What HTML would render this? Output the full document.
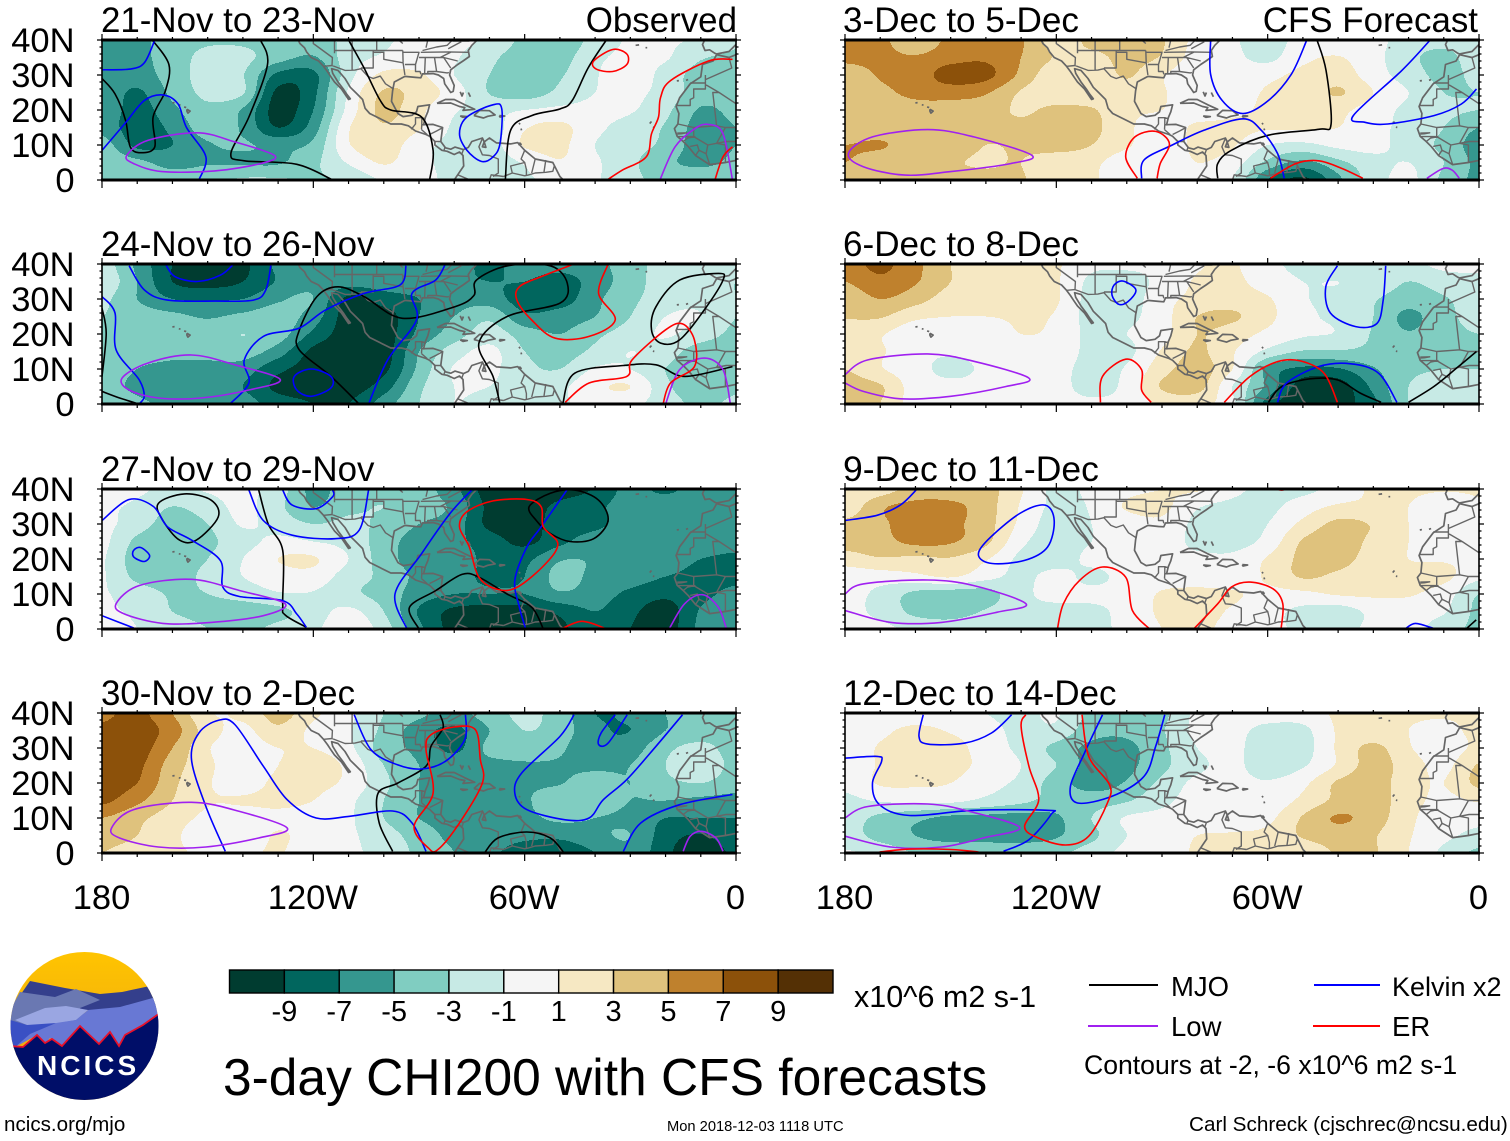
<!DOCTYPE html>
<html lang="en">
<head>
<meta charset="utf-8">
<title>3-day CHI200 with CFS forecasts</title>
<style>
html,body{margin:0;padding:0;background:#fff}
svg{display:block}
text{font-family:"Liberation Sans",sans-serif;fill:#000}
</style>
</head>
<body>
<svg xmlns="http://www.w3.org/2000/svg" width="1510" height="1141" viewBox="0 0 1510 1141">
<rect x="0" y="0" width="1510" height="1141" fill="#fff"/>
<defs>
<clipPath id="logo-clip"><circle cx="84.5" cy="1026" r="74"/></clipPath>
<linearGradient id="sky" x1="0" y1="0" x2="0" y2="1"><stop offset="0" stop-color="#ffc400"/><stop offset="1" stop-color="#e8a018"/></linearGradient>
</defs>
<g id="panels"></g>

<g>
<text x="101" y="32" font-size="34.9">21-Nov to 23-Nov</text>
<text x="737" y="32" font-size="34.9" text-anchor="end">Observed</text>
<text x="101" y="256" font-size="34.9">24-Nov to 26-Nov</text>
<text x="101" y="481" font-size="34.9">27-Nov to 29-Nov</text>
<text x="101" y="705" font-size="34.9">30-Nov to 2-Dec</text>
<text x="843" y="32" font-size="35.1">3-Dec to 5-Dec</text>
<text x="1478" y="32" font-size="34.9" text-anchor="end">CFS Forecast</text>
<text x="843" y="256" font-size="35.1">6-Dec to 8-Dec</text>
<text x="843" y="481" font-size="35.5">9-Dec to 11-Dec</text>
<text x="843" y="705" font-size="34.9">12-Dec to 14-Dec</text>
</g>

<g id="colorbar"></g>
<text x="854" y="1007" font-size="30.5">x10^6 m2 s-1</text>

<g>
<line x1="1089" y1="985" x2="1158" y2="985" stroke="#000" stroke-width="2"/>
<text x="1171" y="996" font-size="27.5">MJO</text>
<line x1="1314" y1="985" x2="1380" y2="985" stroke="#0000ff" stroke-width="2"/>
<text x="1392" y="996" font-size="27">Kelvin x2</text>
<line x1="1088" y1="1026" x2="1158" y2="1026" stroke="#a020f0" stroke-width="2"/>
<text x="1171" y="1036" font-size="27.5">Low</text>
<line x1="1313" y1="1026" x2="1380" y2="1026" stroke="#ff0000" stroke-width="2"/>
<text x="1392" y="1036" font-size="27.5">ER</text>
<text x="1084" y="1074" font-size="26.6">Contours at -2, -6 x10^6 m2 s-1</text>
</g>

<text x="223" y="1095" font-size="51.5">3-day CHI200 with CFS forecasts</text>
<text x="4" y="1131" font-size="20.6">ncics.org/mjo</text>
<text x="667" y="1131" font-size="14.7">Mon 2018-12-03 1118 UTC</text>
<text x="1189" y="1131" font-size="20.7">Carl Schreck (cjschrec@ncsu.edu)</text>

<g clip-path="url(#logo-clip)">
<rect x="10" y="952" width="150" height="148" fill="url(#sky)"/>
<polygon points="10,1010 30,981 65,988 100,994 122,992 150,986 160,990 160,1010" fill="#343f8c"/>
<polygon points="10,1010 20,992 55,997 76,989 100,1000 80,1008 88,1020 40,1030 10,1030" fill="#6a78b2"/>
<polygon points="15,1020 45,1008 66,1006 88,1010 76,1020 47,1025 27,1025" fill="#9aa6e2"/>
<polygon points="88,1010 120,1007 160,996 160,1075 125,1036 118,1046 110,1032 100,1044 80,1026 62,1046 50,1038 45,1044 37,1035 10,1050 14,1045 27,1034 56,1023 76,1020" fill="#6878d4"/>
<polygon points="10,1020 27,1025 56,1023 30,1034 14,1048 10,1048" fill="#3a50c4"/>
<polygon points="10,1046 23,1047 37,1035 45,1043 52,1039 62,1046 80,1026 99,1044 110,1032 119,1046 125,1035 143,1025 160,1013 160,1102 10,1102" fill="#000e68"/>
<polyline points="10,1046 23,1047 37,1035 45,1043 52,1039 62,1046 80,1026 99,1044 110,1032 119,1046 125,1035 143,1025 160,1013" fill="none" stroke="#e8102a" stroke-width="1.8"/>
</g>
<text x="37" y="1075" font-size="28" font-weight="bold" letter-spacing="3" style="fill:#fff">NCICS</text>

<script>
// ---------- grid axes ----------
const gridLons = [-180,-170,-160,-150,-140,-130,-120,-110,-100,-90,-80,-70,-60,-50,-40,-30,-20,-10,0];
const gridLats = [40,35,30,25,20,15,10,5,0];

// ---------- shading levels ----------
const bandLevels = [-9,-7,-5,-3,-1,1,3,5,7,9];
const bandColors = ['#003c30','#01665e','#35978f','#80cdc1','#c7eae5','#f5f5f5','#f6e8c3','#dfc27d','#bf812d','#8c510a','#543005'];

// ---------- tick labels ----------
const lonTickLabels = ['180','120W','60W','0'];
const lonTickValues = [-180,-120,-60,0];
const latTickLabels = ['40N','30N','20N','10N','0'];
const latTickValues = [40,30,20,10,0];
const colorbarLabels = ['-9','-7','-5','-3','-1','1','3','5','7','9'];

// ---------- CHI200 anomaly fields (rows lat 40..0, columns 180..0) ----------
const fieldNov21 = [
[-5.5,-5.5,-4,-3.3,-3.3,-3.8,-3.8,-2.5,-1.2,-0.8,-0.5,-1.5,-3.5,-4.5,-2.2,-0.8,-0.8,-1.3,-2.8],
[-5.5,-5.5,-4,-2.4,-2.5,-4.2,-5.2,-2,-0.7,-0.3,-0.8,-2.5,-4,-3.8,-1.5,-0.5,-0.8,-2.8,-3.3],
[-5.5,-6,-4,-2.3,-2.9,-7.5,-7.5,-1.8,1.5,1.3,-1,-3,-4,-3.2,-1.2,0.3,-1.8,-3.8,-4],
[-5.5,-7.3,-4.5,-2.5,-2.8,-9.5,-7.5,-0.7,3.2,2.2,0,-3.1,-4,-2.5,-1,-0.5,-1.8,-4,-4],
[-5.5,-7.8,-5.5,-3.5,-5.2,-9.8,-7,-0.3,3.5,1.5,-0.8,-1.5,-1,-0.5,-0.5,-0.8,-2.5,-5.2,-4.5],
[-5.8,-8,-6.5,-4,-5.3,-9,-6,0.8,2.8,1.2,-1.3,-2,0.8,1.5,-0.5,-1.8,-3.2,-5.8,-5],
[-4,-7.5,-7,-5.2,-4.8,-5.5,-4.5,0.8,2.2,-0.3,-1.5,-2,1.2,1.5,-1,-2.2,-3.5,-6,-5],
[-3.5,-4.5,-5.7,-5.2,-5.2,-5.2,-3.5,-0.8,1.2,-0.5,-1.5,-2,-0.8,0.8,-0.7,-2.5,-4.5,-5.5,-4.5],
[-3.5,-4,-4,-3.5,-2.8,-2.8,-3.2,-2.5,-0.8,-0.5,-1.5,-1.8,-1.2,-0.7,-0.8,-2.5,-3.5,-3.5,-3.5]
];
const fieldNov24 = [
[-2,-5.5,-9,-10,-9.5,-6.5,-5.5,-5.5,-5.5,-5.5,-6,-7.5,-6,-6,-5.5,-4,-2,-2,-2.5],
[-1.5,-5,-9,-9.8,-9,-6.8,-5.5,-6,-6,-6,-6.5,-7,-7,-8,-6,-4,-2,-2,-3],
[-2.5,-5,-7,-7.2,-7,-5.3,-5,-9.5,-8,-7,-6,-6,-8,-8,-5.5,-3.5,-2,-1.5,-3],
[-3,-4,-4.5,-5.2,-4.5,-4,-6,-10,-10,-7,-5,-3.5,-6.5,-6,-5,-3,-1,-1,-3],
[-3.5,-4,-4,-4,-3,-4,-7.5,-10,-10,-6.5,-4,-2,-4,-5,-3.5,-2,-0.8,-2,-3.5],
[-3,-4,-4.5,-4.5,-4,-6,-9.5,-10,-10,-5,-2,-0.5,-3,-4,-2.5,-1,-2,-4,-4],
[-3.5,-5,-5.5,-5.5,-6,-8.5,-9.8,-10,-9.5,-4.5,-0.8,-0.5,-2.5,-3,-0.8,-1,-3,-4.5,-4],
[-4,-5.5,-6,-6,-7,-9.5,-9.8,-10,-8,-3.5,-1,-1,-2.5,-1.5,0.5,1,-2.5,-4.5,-3.5],
[-3,-4.5,-5.5,-5,-6,-8,-9,-9,-6,-3,-1,-2,-3,-1.5,0,-0.5,-2,-3.5,-2.5]
];
const fieldNov27 = [
[1,-0.5,-1.5,-0.8,-0.5,-2,-5.5,-4,-3.5,-4,-6.5,-10,-10,-10,-8.8,-6.3,-7.5,-5.8,-5.5],
[-0.5,-1.5,-3,-2,-0.5,-2.5,-5,-3.5,-3,-4,-5.5,-9.5,-10,-8.5,-7.5,-6,-5.5,-5.5,-5.5],
[-0.5,-2,-4,-3,-0.8,-1.8,-3,-2.5,-3.5,-5,-6,-9.5,-10,-8,-7.5,-6,-5.5,-5.5,-5.5],
[-0.5,-3.5,-5,-3.5,-1.8,-0.5,-1,-1.8,-4,-6,-6.5,-8,-9.5,-7.5,-6,-5.5,-5.5,-5.5,-6],
[-0.8,-4,-4,-3,-1,1,1.2,-1,-4,-6,-6,-7.5,-7.5,-5.2,-5.2,-6,-6,-7,-7.5],
[-0.8,-3.5,-3.8,-2.5,-1,0,0.2,-2,-3.5,-5.5,-6,-7.5,-7,-4.4,-5.5,-6,-7,-7.5,-7.5],
[-0.8,-2,-3.2,-3,-2.2,-1.2,-1.2,-2.5,-3.8,-6,-7,-7,-7,-5.3,-6,-7.5,-8.5,-7.5,-6.5],
[-0.5,-1.5,-3,-3.6,-4,-3.5,-2,-0.5,-3,-7.2,-9.5,-10,-10,-8.5,-7,-8.5,-10,-6.8,-6],
[1,-1,-2,-3,-3.5,-2.5,-1.5,0.5,-2,-6.5,-9.8,-10,-10,-9.5,-7.5,-9,-10,-6.5,-5.5]
];
const fieldNov30 = [
[6.5,7.5,5,1.2,1.5,3.8,1.5,-0.5,-3,-4.5,-5.5,-4,-2.5,-4,-7,-6.5,-5,-4,-3.5],
[7.5,8,6,2,0.5,2.5,0.5,-0.8,-3.5,-6,-7.5,-5,-3,-4,-6.5,-7,-5,-4,-4],
[8,8,5,1.2,0,1,1,-0.5,-4,-5.5,-7.5,-4.5,-4,-4.7,-6.5,-6,-3.5,-2.5,-3.8],
[8,7.5,4,1.5,-0.5,1,2,0.5,-3,-5,-5.5,-5.5,-5.2,-5.2,-5.5,-5,-3,-2,-3.5],
[8,7,3.5,1.2,0,1.5,1.5,0.5,-2.5,-5,-5.5,-5.2,-5.2,-5.1,-4,-5,-3.5,-3,-4],
[7.5,5.5,3,1.2,1.2,1.5,1,-0.5,-3,-5,-5.5,-5.2,-5.2,-3.8,-3.8,-5,-5,-5.5,-5.8],
[5,3.5,2,0.5,0,0.5,0,-0.7,-3,-5,-5.5,-5.5,-5.5,-4.6,-5,-5.5,-7,-7,-7],
[3.5,3,1.5,-0.5,-0.5,1.2,0,-0.7,-2,-4,-5.5,-6,-6.5,-6.5,-5.5,-5,-8,-9.2,-7.5],
[3,2.5,1.5,0.5,0.5,1.2,-0.5,-0.8,-1.5,-3.5,-5,-6.5,-8,-8.5,-7,-5.5,-8.5,-10.5,-8.5]
];
const fieldDec3 = [
[5.5,5.5,3.5,5.5,5.5,5.2,2,3.5,3.5,3.2,0.3,-0.8,-1.6,-0.5,0,-0.3,-2,-2.5,-2],
[5.5,5.5,5.2,6.2,6.6,5,2.8,2.5,3.5,2.8,0,-0.5,-1.5,0.5,1.1,-0.3,-2.5,-3.5,-2],
[3.8,5.2,5.8,8,7.6,4.5,1.5,1.5,3.2,1.2,-0.5,0,0.5,1.5,2,0,-2,-3.5,-2.5],
[3.5,4.5,5.5,5.8,5.2,2.8,1.5,1.5,2,1.2,-0.5,0,1.2,1.5,3.2,1,-1,-3,-3],
[3.5,3.8,4.2,4.2,4,2.7,3.5,3.2,1.5,1,-0.5,0.5,1.3,1.5,1.5,0,-1.5,-2.5,-3],
[3.5,3.8,4,4,3.5,3.5,4,3.5,1.5,-0.5,1.5,1.5,1.2,1.2,1,-0.5,-1.5,-3,-5],
[5,5.2,4,4,3,3.3,4,3,1.3,-0.5,1.5,1.2,-1,-1.5,-0.5,-0.3,-2,-3.5,-6],
[5,3.8,3.8,3.2,2.8,3,1.5,1.5,-0.3,-0.5,1,0,-3.5,-5.5,-3.5,-1.8,-1,-3,-5.5],
[3.5,3.5,3.5,3.5,3.5,3.2,1.5,1.2,0,-0.5,0.5,-1,-7,-9.5,-5.5,-2,-0.5,-3.5,-5.5]
];
const fieldDec6 = [
[6,7.5,5.5,3,1.5,1.5,1.2,-0.5,-0.5,-0.3,0.8,1.2,-0.5,-1.5,-2,-2,-1.5,-0.5,-0.5],
[5,6.5,5.2,3,1.5,1.5,1.2,-1.5,-2,-0.3,1.2,1.5,0,-1,-1,-1.5,-3,-2,-1.5],
[3.5,5,3.8,2,1.5,1.5,1.2,-1.8,-2,0.3,1.5,2,1.2,-0.8,-1.5,-2.8,-4,-3.2,-2],
[3.2,3.2,1.5,1,1,1.2,0.8,-1.8,-1.5,0.2,3,3.3,1.5,-0.5,-1.5,-3,-5.5,-3.5,-2.5],
[1.5,1.2,-0.5,-0.5,-0.5,1,0.5,-1.5,-1,0.3,3,2,0.5,-0.7,-1.2,-3.2,-4.8,-3.5,-3],
[1.2,1.2,-0.5,-0.8,-0.5,-0.5,0,-1.5,-1.5,1.2,3.3,1.2,-1.5,-3.2,-3.2,-3.5,-3.5,-3.5,-3.5],
[3,1.2,-0.3,-1.5,-0.7,-0.5,-0.5,-1.5,-0.8,2.2,3.8,1,-5.5,-7.5,-7.2,-5.2,-3.5,-3,-3],
[3.8,3.2,0,-0.5,-0.5,-0.5,-0.5,-1.5,-0.5,3.2,3.8,-1,-5.5,-10,-10,-6.5,-3,-2,-2],
[3.8,3,0,-0.5,-0.5,-0.5,-0.5,-0.7,-0.5,1.5,1.5,-0.5,-8,-10.5,-10,-7.5,-3,-1.5,-1.5]
];
const fieldDec9 = [
[1.2,2,3.8,3.8,3.8,1.2,-1.5,-0.5,0.5,1,1.2,-0.5,-1.5,-1.5,-0.3,1.3,1.3,1.2,1.2],
[1.5,4.6,5.6,5.5,3.9,0.8,-1.5,-0.8,1.2,1.5,-0.8,-1.5,-1.5,0,1.3,1.3,1,-0.5,0.8],
[3.5,4.6,6,5.5,3.8,0.5,-2,-1,0,0.5,-1.5,-2,-1,1.5,3.5,2.8,1,-0.5,0.8],
[3.8,4.3,5.5,5.2,3.5,-0.5,-2,-1,-0.2,0,-1.5,-1.8,-0.3,3.2,4,2.5,1,-0.3,0.5],
[2,2.8,2.5,2.8,1.2,-1.5,-2,-0.5,-0.2,-0.3,-0.5,-0.5,1.2,3.5,3.8,2,1,0.8,0.5],
[-0.2,0,0.5,1.2,-0.3,-1.5,-0.3,-1.5,-0.3,0,0,0,1.3,3.2,2.5,1.5,1.5,1.5,-0.5],
[-0.3,-1.5,-3.5,-4,-3.8,-1.5,-0.5,-0.5,-0.3,1.2,1.5,1.2,0.5,0.5,1.2,1.3,1.2,0,-3],
[-0.5,-1.5,-3.5,-3.8,-2.8,-1.5,-1.5,-1.5,-0.3,1.3,1.5,0.8,-0.3,-1.5,-2,-0.5,-0.3,-0.8,-3.5],
[-0.5,-0.5,-1.5,-2,-1.5,-1.5,-1.8,-1.5,-0.5,1,1.3,0.5,-0.3,-1.5,-1.8,-0.5,-0.3,-2,-3.5]
];
const fieldDec12 = [
[-0.3,-0.3,-0.3,-0.3,-1,-1.5,-0.8,-3.5,-3.8,-3.5,-0.5,-0.3,-0.3,0,1.3,1.3,1.2,1.2,1.3],
[-0.5,0.5,1.5,0.8,-0.3,-1.5,-1.5,-4.2,-4.5,-3.2,-0.5,-0.5,-1.5,-1.5,1.2,1.5,1,0.5,1.5],
[-0.5,1.2,1.8,1.8,0,-1.5,-3.6,-5.5,-5.5,-3.5,-1,-0.5,-2.2,-1.8,1.3,3.5,1.2,0,1.5],
[-0.5,1.2,1.8,1.5,0.5,-1,-3,-5.8,-5.5,-3.5,-1.5,-0.5,-2.2,-1.2,1.3,3.8,2,0.5,3.2],
[-0.5,1.2,1.3,1,-0.3,-1.5,-4,-5.8,-4.8,-2.5,-0.5,-0.3,-0.8,0.5,3.3,4,1.8,1,3.5],
[-1.5,-0.8,-0.5,-0.5,-1.5,-2.5,-3.8,-4,-3.2,-1.5,-0.3,-0.3,-0.3,1.5,3.5,4,1.8,0.5,1.2],
[-2,-3.5,-4.5,-5.5,-5.6,-5.8,-5.3,-3,-0.8,-0.5,-0.3,-0.2,0.5,3.2,5.2,4,1.5,-0.3,-0.5],
[-2,-3.8,-5,-5.8,-6,-6,-5.2,-3.5,-1,-0.5,1,1.2,1.5,3.2,4,3.2,1.2,-0.5,-1.5],
[-0.8,-1.5,-3.2,-3.5,-3.2,-3.5,-3.5,-2,-0.5,-0.3,1.3,1.2,1.3,1.5,3.2,3.2,1,-1.5,-3.5]
];

// ---------- contour lines: [lon, lat]; repeated first point = closed ----------
const mjoNov21 = [
[[-165.7,40],[-161,33],[-162,25.5],[-165.5,18],[-165,9.5],[-169,7.8],[-172,9.5],[-173.3,17],[-176.3,24.6],[-180,29]],
[[-135,40],[-133,33],[-138.3,18],[-143.4,7.6],[-139.6,5.5],[-124.7,4.5],[-114.5,0]],
[[-110,40],[-105.6,32],[-101,22.7],[-98,20],[-89.3,18],[-86,8.5],[-87,0]],
[[-37,39.7],[-42,32],[-46.5,22.7],[-50,20.3],[-58,18.4],[-64,14.2],[-65.5,0]]
];
const kelvinNov21 = [
[[-180,31.5],[-172,31.7],[-168,33.5],[-165,40]],
[[-180,8.5],[-173.6,16],[-168,22.7],[-162.7,24.3],[-158.4,21.7],[-156,15],[-150.5,6.6],[-152.5,0]],
[[-69,21.5],[-66.5,20.3],[-67,10.4],[-69,6.6],[-72.3,5.3],[-76.4,8.5],[-78.5,13.2],[-76.4,18],[-69,21.5]]
];
const lowNov21 = [
[[-173,7],[-167,11.3],[-153,13.5],[-142.3,10.9],[-131,7],[-135,4.7],[-148,2.6],[-163,2.4],[-171,4.7],[-173,7]],
[[-21.6,0],[-17.3,9.5],[-11.8,14.6],[-7.8,15.9],[-3.7,13.2],[-1,0]]
];
const erNov21 = [
[[-35,37.3],[-31,36],[-31,33],[-35,31],[-39.7,31.7],[-40.4,34],[-35,37.3]],
[[-1,34.5],[-7.8,34],[-18.6,28.4],[-21.4,23.6],[-22,18],[-24,13.2],[-25.5,6.6],[-32.3,2.8],[-36.6,0]],
[[-1,9.5],[-3.7,6.6],[-6,0]]
];

const mjoNov24 = [
[[-180,27.4],[-178.8,20.2],[-180,7.9]],
[[-180,3.6],[-175,1.7],[-169.5,0]],
[[-107,0],[-115,7.9],[-124,15.5],[-124,21],[-119,30.7],[-113,33.5],[-105.6,30.7],[-94.7,24.5],[-79.8,27.8],[-74.4,31],[-73.7,35.4],[-64.9,39.5],[-52.7,39.5],[-47.9,34.5],[-50,28.8],[-65,25],[-73,17.4],[-69,7.9],[-67,0]],
[[-5,37.3],[-3.7,35.4],[-9,26.9],[-16,18.3],[-21.4,17.4],[-24,21.2],[-22.7,27.8],[-16,35.4],[-5,37.3]],
[[-49.2,0],[-45.8,8.8],[-32,11],[-22.7,11.2],[-14.6,7.9],[-1,10.7]]
];
const kelvinNov24 = [
[[-172.3,39.5],[-168,32.6],[-161.4,29.7],[-147.8,29.4],[-137,29.7],[-133.5,32.6],[-132,40]],
[[-162,40],[-159.3,36.4],[-153,35],[-146.4,36.8],[-142.6,40]],
[[-180,30.7],[-176.3,26],[-176,15.5],[-169.5,7],[-168,2.2],[-169.5,0]],
[[-143.7,0],[-138.3,6],[-139.6,12.6],[-134.2,19.3],[-124,21.7],[-116.5,26.9],[-105.6,31.6],[-95.4,34],[-93.7,39.5]],
[[-120.6,10],[-115,7.9],[-115,4.6],[-120.6,2.2],[-124.7,4],[-125.4,7.9],[-120.6,10]],
[[-104.3,0],[-98.9,12.6],[-90.7,24],[-92,31.6],[-85.3,35.4],[-82.5,40]]
];
const lowNov24 = [
[[-174.3,7.4],[-167,11.7],[-154.6,14],[-142.3,11.2],[-129.4,7],[-138.3,4],[-151.9,1.7],[-164,1.7],[-172.3,4],[-174.3,7.4]],
[[-20,0],[-16,9.8],[-9,13.1],[-3.7,9.8],[-1.6,0]]
];
const erNov24 = [
[[-46,40],[-55.3,36.4],[-61.5,33.5],[-62.2,29.7],[-58,24],[-51.3,18.8],[-41.7,19.3],[-34.3,24],[-39,31.6],[-36.3,40]],
[[-48.5,0.5],[-41.7,6],[-31,7.9],[-29.5,12.6],[-20,21.2],[-15.2,22.9],[-11.8,18.3],[-11.8,10.7],[-18.6,6],[-20.7,0]]
];

const mjoNov27 = [
[[-156.6,38.6],[-149,36.8],[-147,32],[-153.2,25.4],[-158,25.4],[-162.7,31],[-164,35.9],[-156.6,38.6]],
[[-135.5,39.7],[-132.8,30],[-128.7,22.5],[-128.7,7.2],[-128,4],[-122,0.5]],
[[-90,0],[-92.7,6.2],[-85.2,11],[-77.8,15.6],[-73,14.8],[-65,10],[-58,6.2],[-54.7,0]],
[[-58.7,35],[-52.7,38.8],[-45.8,39.7],[-39,36.8],[-36.3,31],[-40.4,25.8],[-47.2,25],[-52.7,27.3],[-56.7,31],[-58.7,35]]
];
const kelvinNov27 = [
[[-180,31],[-172.3,37],[-165.4,35],[-161.4,29.2],[-154.6,25.4],[-146.4,19.6],[-145.7,12],[-141,9.3],[-128.7,8.1],[-124.7,4.3],[-122,0.5]],
[[-169,23.3],[-166.5,21],[-168,19.3],[-171,20.6],[-171,22.5],[-169,23.3]],
[[-180,3.8],[-171,0.3]],
[[-138.3,39.7],[-134.2,31],[-126,26.8],[-113.8,25.8],[-107,28.2],[-104.3,39.7]],
[[-128.7,39.7],[-126,35.4],[-119.2,34.4],[-114.5,37.8],[-114.5,39.7]],
[[-75,39.7],[-81.2,33],[-89.3,21.5],[-96.8,10],[-93.4,0]],
[[-48,39.7],[-55.3,29.2],[-59.4,23.4],[-62.8,13.9],[-61.5,6.2],[-59.7,0]]
];
const lowNov27 = [
[[-176,7.2],[-169.5,12.4],[-154.6,14.2],[-141,11],[-128,7.2],[-134.2,3.8],[-149,1.9],[-162.7,1.6],[-173.6,4.3],[-176,7.2]],
[[-19,0],[-14.6,7.2],[-9.5,9.8],[-5,6.2],[-2.7,0]]
];
const erNov27 = [
[[-59.4,37],[-55.3,34.9],[-54.7,29.2],[-50.6,24.4],[-54,18.7],[-62,12],[-67.6,11.3],[-73,14.8],[-75.7,23.4],[-78.5,29.2],[-76.4,33.5],[-69,36.6],[-59.4,37]],
[[-49.6,0],[-43.8,2.2],[-37.4,0.3]]
];

const mjoNov30 = [
[[-84,39.5],[-83.2,35.7],[-86.6,30.5],[-88,24.8],[-96,20],[-101.6,17.1],[-101.3,8.6],[-97.5,0.5]],
[[-71.4,0],[-67.6,4.3],[-59.4,6],[-52.7,4.3],[-48.8,0]]
];
const kelvinNov30 = [
[[-145,0.5],[-150.5,13.3],[-154.6,26.7],[-152.5,34.3],[-147,37.9],[-142.3,36.7],[-134.2,24.8],[-127.4,15.2],[-119.2,10],[-109.7,10.5],[-97.5,12],[-92,8.6],[-88,0.5]],
[[-108.4,39.5],[-103.6,29.5],[-96.1,25.2],[-89.3,24],[-82.5,26.2],[-77,32.4],[-76.8,39.5]],
[[-46,39.5],[-50,33.3],[-60.8,22.9],[-62.8,17.1],[-59.4,12.4],[-48.5,9.5],[-41.7,10],[-37.7,15.2],[-31,21],[-22.7,30.5],[-15.2,39.5]],
[[-34.3,39.5],[-38.3,34.3],[-39,31],[-36.3,31.4],[-30.9,39.5]],
[[-32,0.5],[-27,8.6],[-16,13.8],[-1,16.7]]
];
const lowNov30 = [
[[-177.3,7.1],[-171,12.4],[-154.6,14.5],[-141,11.9],[-127.4,7.1],[-135.5,4.3],[-150.5,1.7],[-164,1.7],[-175,4.3],[-177.3,7.1]],
[[-15,0.5],[-13,4.8],[-9.8,6.2],[-5.7,4.3],[-3.7,0.5]]
];
const erNov30 = [
[[-80,36],[-74,35.2],[-72.6,26.7],[-72,20],[-78.5,8.6],[-84.6,1],[-87.3,1.4],[-91.4,7.6],[-86,17.1],[-88,29.5],[-86.6,33.8],[-80,36]]
];

const mjoDec3 = [
[[-46,40],[-43.4,31.2],[-42,16],[-45.5,14.5],[-59.8,12.8],[-70.3,8.5],[-74.2,4.7],[-74.2,0.5]]
];
const kelvinDec3 = [
[[-76.2,39.7],[-76.2,30.2],[-72.9,22.7],[-67,19],[-59.8,22.7],[-53.3,30.2],[-49,39.7]],
[[-95.8,0.5],[-95.1,5.7],[-87.3,9.9],[-78.1,14.2],[-67,17.5],[-61.8,14.2],[-57.2,7.6],[-55.3,0.5]],
[[-14.1,39.7],[-22,31.2],[-35.7,18.4],[-32.4,16.5],[-25.9,16],[-12.8,18.4],[-5,21.7],[-0.7,26]]
];
const lowDec3 = [
[[-179,7.6],[-172.2,12.3],[-156.5,14.4],[-143.4,12.3],[-127,7.1],[-133,4.7],[-150,2.4],[-163,1.4],[-174.8,3.8],[-179,7.6]],
[[-14.8,0.5],[-10.2,3.3],[-7.6,2.8],[-5.6,0.5]]
];
const erDec3 = [
[[-97,0.5],[-100.3,6.6],[-97.7,12.3],[-91.8,13.9],[-87.9,10.4],[-90.5,4.7],[-91.4,0.5]],
[[-59.2,0.5],[-52,4.7],[-45.5,5.5],[-38.9,3.3],[-33,0.5]]
];

const mjoDec6 = [
[[-59.8,0.5],[-56,5],[-48,7.2],[-40.2,6.9],[-33.7,3.1],[-27.8,0.5]],
[[-20,0.5],[-12.8,5],[-6.3,10.3],[-0.7,15]]
];
const kelvinDec6 = [
[[-101,35.1],[-97.4,32.6],[-99.7,29.2],[-102.3,28.5],[-104.2,31.1],[-103.6,34],[-101,35.1]],
[[-40.2,39.5],[-43.5,33.5],[-42.2,26],[-35,22.1],[-29,23],[-27.2,29.7],[-26.5,39.5]],
[[-57.2,0.5],[-54.6,6],[-45.5,10.7],[-36.4,11.5],[-28.5,8.8],[-23.3,0.5]]
];
const lowDec6 = [
[[-180,8.4],[-173.5,12.6],[-156.5,14.3],[-143.4,12.2],[-127.8,7.4],[-134.3,5],[-150,2.2],[-164.3,1.5],[-174.8,3.6],[-180,6]]
];
const erDec6 = [
[[-107.5,0.5],[-106.9,7.9],[-100.3,12.8],[-95.8,9.8],[-95.8,4],[-93.1,0.5]],
[[-72.3,0.5],[-65,7.9],[-57.2,12.1],[-50.7,12.3],[-44,8.8],[-40.2,0.5]]
];

const mjoDec9 = [
[[-3.7,0],[-0.8,2.6]]
];
const kelvinDec9 = [
[[-180,31],[-170.9,32.5],[-164.3,35.4],[-159.8,39.7]],
[[-123.2,35.4],[-120.6,31],[-122.5,23.4],[-129,19.6],[-138.2,18.7],[-142.1,21],[-139.5,25.4],[-130.4,33],[-123.2,35.4]],
[[-21,0],[-18,1.6],[-12.4,0]]
];
const lowDec9 = [
[[-180,10],[-174.8,12.9],[-156.5,14],[-143.4,12.4],[-128.6,7.2],[-136.8,4.8],[-152.6,1.9],[-167,1.9],[-180,5.3]]
];
const erDec9 = [
[[-119.7,0],[-118,7.2],[-113.4,13.9],[-106.9,17.7],[-100.3,14.8],[-98.4,5.3],[-93.5,0]],
[[-81,0],[-74.2,7.2],[-70.3,12],[-65,13.4],[-58.5,11.5],[-55.7,7.2],[-56.2,0]],
[[-57.5,39.9],[-56,39.7],[-55,39.9]]
];

const mjoDec12 = [];
const kelvinDec12 = [
[[-157.8,39.5],[-159,33.3],[-156.5,31.1],[-146,31.4],[-138.4,34.3],[-132.7,39.5]],
[[-180,27.1],[-170.9,27.6],[-169.6,26.2],[-172.2,20],[-170.2,13.8],[-161.7,10.7],[-143.4,12.2],[-122.5,12.2],[-121.5,11],[-127.8,3.8],[-135,0.5]],
[[-106.9,39.5],[-112,28.6],[-116,19],[-114,14.3],[-104.2,16.2],[-95.1,21.9],[-91.8,30.5],[-89.2,39.5]]
];
const lowDec12 = [
[[-180,10],[-173.5,13.3],[-156.5,14],[-144.7,11.9],[-130.4,7.3],[-140.8,4.3],[-152.6,1.7],[-167,1.7],[-180,4.8]]
];
const erDec12 = [
[[-128.7,39.5],[-130,36.2],[-127.8,24.8],[-125,15.2],[-129,7.6],[-125.1,4.3],[-117.3,2.3],[-110.8,4.8],[-105.5,14.3],[-104.9,19.5],[-110.8,27.6],[-112.7,39.5]],
[[-170.2,0.3],[-161.7,1.1],[-150,1],[-142.1,0.3]]
];

// ---------- geography (lon, lat) ----------
const coastlines = [
[[-124.3,40],[-123.8,39],[-122.5,37.8],[-121.9,36.6],[-120.6,35],[-118.5,34],[-117.2,32.6],[-116,31],[-115,29.5],[-114,28],[-112,26],[-110,23],[-109.5,23.2],[-110.5,24.5],[-111.5,26],[-113,28],[-114.5,30.5],[-114.8,31.8],[-113,31.3],[-111,29],[-109.5,26.5],[-108,25],[-106,23],[-105.3,20.5],[-104,19],[-101,17.5],[-98,16],[-95,16],[-93,15.5],[-91,14],[-88,13],[-87,12.5],[-85.5,11],[-85.5,10],[-83.5,8.5],[-82,8.2],[-80,7.3],[-78.5,8],[-77.5,7],[-77.3,4],[-79,1.5],[-80,0]],
[[-73.5,40],[-74,39.5],[-75,38.5],[-76,37],[-75.7,35.3],[-77.5,34],[-79,33],[-81,31.5],[-81.3,30],[-80,27],[-80.3,25.3],[-81,25],[-82.7,27.5],[-83,29],[-84.5,30],[-86,30.4],[-89,30.3],[-89.5,29.2],[-91,29.3],[-94,29.6],[-97,28],[-97.5,25.5],[-97.8,22.5],[-96,19],[-94.5,18.1],[-92,18.5],[-90.7,19.5],[-90.3,21],[-87,21.5],[-87.5,19.5],[-88.2,17.8],[-88.7,15.8],[-86,15.9],[-83.3,15],[-83.7,12],[-83.8,11],[-82.5,9.2],[-81,8.8],[-79.8,9.4],[-77.4,8.7],[-76,9.3],[-75,11],[-72,12],[-71.5,10.9],[-72,9.5],[-71,9.3],[-71.5,10.9],[-70,12],[-68,10.6],[-64,10.3],[-62,10.7],[-60,8.5],[-57,6],[-52,5],[-50,1],[-49,0]],
[[-84.9,21.9],[-82.5,23],[-80,23],[-77,21.5],[-74.2,20.2],[-77.5,19.9],[-77,20.7],[-78.5,21],[-81,22],[-84,21.9],[-84.9,21.9]],
[[-74.4,18.4],[-72.8,19.9],[-70,19.8],[-68.4,18.6],[-70.5,18.2],[-71.7,17.7],[-74.4,18.4]],
[[-78.3,18.3],[-76.3,18.1],[-77.5,17.9],[-78.3,18.3]],
[[-67.2,18.4],[-65.7,18.3],[-67,18],[-67.2,18.4]],
[[-61.5,10.7],[-61,10.2],[-61.6,10.1],[-61.5,10.7]],
[[-78.3,25.2],[-77.8,24],[-77.4,25]],
[[-76,25],[-75.4,23.8]],
[[-61,14.7],[-60.9,14.2]],
[[-61.6,16.3],[-61.3,15.9]],
[[-160,22],[-159.4,22.1]],
[[-158.2,21.5],[-157.7,21.4]],
[[-156.7,20.9],[-156.1,20.7]],
[[-155.9,20.2],[-155,19.7],[-155.6,19.1],[-155.9,19.7],[-155.9,20.2]],
[[-28.5,38.5],[-27.5,38.6]],
[[-25.7,37.8],[-25.2,37.8]],
[[-16.8,28.3],[-16.2,28.4]],
[[-14.2,28.5],[-13.6,28.7]],
[[-24.5,16.1],[-24,16.7]],
[[-23.6,15.1],[-23.2,15]],
[[0,35.8],[-2,35],[-5.5,35.8],[-6.5,34],[-9.5,33],[-10,29.5],[-13,27.5],[-16,23.5],[-17,21],[-16.2,19],[-16.5,16],[-17.5,14.7],[-16.7,12.5],[-15,11],[-13.5,9.5],[-11.5,7],[-7.5,4.4],[-3,5],[0,5.6]],
[[-8.9,40],[-9.5,38.7],[-8.8,37],[-7.5,37.2],[-6,36.2],[-5.5,36],[-2,36.7],[0,38.7]]
];
const borders = [
[[-117,32.5],[-114.7,32.7],[-111,31.3],[-108.2,31.4],[-106.5,31.8],[-104.5,29.6],[-103,29],[-101,29.7],[-99.5,27.5],[-97.2,26]],
[[-120,40],[-120,39],[-114.6,35],[-114.7,32.7]],
[[-114,40],[-114,36.2]],
[[-114,37],[-94.6,37]],
[[-109,40],[-109,31.3]],
[[-102,40],[-102,37]],
[[-103,37],[-103,32],[-106.5,32]],
[[-103,36.5],[-100,36.5],[-100,34.5],[-94.5,33.5],[-94,30]],
[[-94.6,37],[-94.5,33.5]],
[[-94,33],[-91,33],[-91,31],[-89.7,31],[-89.5,30.2]],
[[-94.6,36.5],[-90,36.5],[-91,33]],
[[-88.2,35],[-88.4,30.3]],
[[-85.6,35],[-85,31],[-87.5,31],[-87.5,30.3]],
[[-85,31],[-82,30.6],[-81.5,30.7]],
[[-90,35],[-84,35],[-83,35],[-81,32]],
[[-84,35],[-81,36.5]],
[[-83,35],[-79,34]],
[[-89.5,36.5],[-81.7,36.6],[-76,36.5]],
[[-89,37],[-85,38],[-82,38.5],[-80.5,40]],
[[-81.7,37.5],[-78,39.5]],
[[-80.5,39.7],[-75.7,39.7]],
[[-95.8,40],[-94.6,39]],
[[-87.5,40],[-88,37.8]],
[[-92.2,14.5],[-91,16],[-91,17.8],[-89.2,17.8],[-88.2,17.5]],
[[-89.2,17.8],[-89.2,15.9],[-88.5,15.7]],
[[-89.3,14.4],[-87.7,13]],
[[-89.3,14.4],[-89.2,15.9]],
[[-87,13],[-85,14],[-83.2,15]],
[[-85.6,11],[-83.7,11]],
[[-83,8.2],[-82.6,9.5]],
[[-77.4,8.7],[-77.9,7.2]],
[[-72,11.9],[-73,9.5],[-72,7.2],[-70,7],[-67.5,6],[-67.5,2],[-69,1]],
[[-60,8.5],[-61,6],[-60,5],[-64,4],[-63.5,2],[-66,1]],
[[-70,0],[-69.5,1.5],[-66,1]],
[[-63.5,2],[-60,1.2],[-59,1.4],[-57,2],[-54,2.2],[-52,2.5],[-51.6,4]],
[[-57,6],[-58,2]],
[[-54,5.7],[-54.5,2.3]],
[[-60,5],[-59.5,3],[-59.5,1.4]],
[[-79,1.5],[-75.5,0]],
[[-13,27.7],[-8.7,27.7],[-8.7,26],[-12,26],[-12,23.5],[-13,23],[-13,21.3],[-17,21.3]],
[[-8.7,27.3],[-4.8,25],[-6.6,25],[-5.5,15.5],[-12,15],[-16.5,16]],
[[-8.7,30],[-8.7,27.7]],
[[-4.8,25],[0,21.8]],
[[-2,35],[-1.2,32],[-8.7,28.7]],
[[-12,15],[-12,12.4],[-16.7,12.4]],
[[-16.7,13.4],[-14,13.5],[-15.5,13.2],[-16.7,13.1]],
[[-15,11],[-13.7,12],[-11.5,12.4]],
[[-13,9.6],[-11,10],[-10.5,8.5],[-11.5,7]],
[[-10.5,8.5],[-8.5,7.5],[-7.5,4.5]],
[[-8.5,7.5],[-8,10],[-5.5,10.5],[-3,10],[-3,5]],
[[-8,10],[-12,12.4]],
[[-5.5,10.5],[-2.8,11],[0,11]],
[[-5.5,15.5],[-3,15],[0,15]],
[[-3,15],[-5.5,10.5]]
];

// ---------- layout and rendering ----------
const plotW = 634;
const plotH = 140;
const panels = [
  {slug:'nov21', x:102, y:40,  field:fieldNov21, mjo:mjoNov21, kelvin:kelvinNov21, low:lowNov21, er:erNov21},
  {slug:'nov24', x:102, y:264, field:fieldNov24, mjo:mjoNov24, kelvin:kelvinNov24, low:lowNov24, er:erNov24},
  {slug:'nov27', x:102, y:489, field:fieldNov27, mjo:mjoNov27, kelvin:kelvinNov27, low:lowNov27, er:erNov27},
  {slug:'nov30', x:102, y:713, field:fieldNov30, mjo:mjoNov30, kelvin:kelvinNov30, low:lowNov30, er:erNov30},
  {slug:'dec3',  x:845, y:40,  field:fieldDec3,  mjo:mjoDec3,  kelvin:kelvinDec3,  low:lowDec3,  er:erDec3},
  {slug:'dec6',  x:845, y:264, field:fieldDec6,  mjo:mjoDec6,  kelvin:kelvinDec6,  low:lowDec6,  er:erDec6},
  {slug:'dec9',  x:845, y:489, field:fieldDec9,  mjo:mjoDec9,  kelvin:kelvinDec9,  low:lowDec9,  er:erDec9},
  {slug:'dec12', x:845, y:713, field:fieldDec12, mjo:mjoDec12, kelvin:kelvinDec12, low:lowDec12, er:erDec12}
];
const NS = 'http://www.w3.org/2000/svg';
function mk(tag, attrs, parent){
  const e = document.createElementNS(NS, tag);
  for (const k in attrs) e.setAttribute(k, attrs[k]);
  parent.appendChild(e);
  return e;
}
function xScale(lon, p){ return p.x + (lon + 180) / 180 * plotW; }
function yScale(lat, p){ return p.y + (40 - lat) / 40 * plotH; }
function cubic(a,b,c,d,t){ return 0.5*(2*b+(c-a)*t+(2*a-5*b+4*c-d)*t*t+(3*b-a-3*c+d)*t*t*t); }
function sampleField(f, lon, lat){
  const maxC = gridLons.length - 1, maxR = gridLats.length - 1;
  const u = Math.min((lon + 180) / 10, maxC - 1e-6), v = Math.min((40 - lat) / 5, maxR - 1e-6);
  const i = Math.floor(u), j = Math.floor(v), tu = u - i, tv = v - j;
  const vals = [];
  for (let r = j - 1; r <= j + 2; r++){
    const row = f[Math.max(0, Math.min(maxR, r))];
    vals.push(cubic(row[Math.max(0,i-1)], row[i], row[i+1], row[Math.min(maxC,i+2)], tu));
  }
  return cubic(vals[0], vals[1], vals[2], vals[3], tv);
}
function bandOf(v){
  let b = 0;
  while (b < bandLevels.length && v >= bandLevels[b]) b++;
  return b;
}
function smoothPath(pts, p){
  const xy = pts.map(q => [xScale(q[0], p), yScale(q[1], p)]);
  const n = xy.length;
  const closed = n > 3 && pts[0][0] === pts[n-1][0] && pts[0][1] === pts[n-1][1];
  const at = k => closed ? xy[((k % (n-1)) + (n-1)) % (n-1)] : xy[Math.max(0, Math.min(n-1, k))];
  let d = 'M' + xy[0][0].toFixed(1) + ' ' + xy[0][1].toFixed(1);
  for (let k = 0; k < n - 1; k++){
    const a = at(k-1), b = at(k), c = at(k+1), e = at(k+2);
    d += 'C' + (b[0]+(c[0]-a[0])/6).toFixed(1) + ' ' + (b[1]+(c[1]-a[1])/6).toFixed(1) + ' '
             + (c[0]-(e[0]-b[0])/6).toFixed(1) + ' ' + (c[1]-(e[1]-b[1])/6).toFixed(1) + ' '
             + c[0].toFixed(1) + ' ' + c[1].toFixed(1);
  }
  return d + (closed ? 'Z' : '');
}
function polyPath(lines, p){
  return lines.map(l => 'M' + l.map(q => xScale(q[0], p).toFixed(1) + ' ' + yScale(q[1], p).toFixed(1)).join('L')).join('');
}

const root = document.getElementById('panels');
const defs = document.querySelector('defs');
const seriesStyles = [['mjo','#000000'],['kelvin','#0000ff'],['low','#a020f0'],['er','#ff0000']];

panels.forEach(function(p, idx){
  const g = mk('g', {}, root);
  
  

  const cp = mk('clipPath', {id:'clip-' + p.slug}, defs);
  mk('rect', {x:p.x, y:p.y, width:plotW, height:plotH}, cp);
  const inner = mk('g', {'clip-path':'url(#clip-' + p.slug + ')'}, g);
  
  

  // shaded field as run-length rows per band
  const bandPaths = bandColors.map(() => []);
  for (let py = 0; py < plotH; py++){
    const lat = 40 - (py + 0.5) / plotH * 40;
    let start = 0, cur = -1;
    for (let px = 0; px <= plotW; px++){
      const b = px < plotW ? bandOf(sampleField(p.field, -180 + (px + 0.5) / plotW * 180, lat)) : -2;
      if (b !== cur){
        if (cur >= 0) bandPaths[cur].push('M' + (p.x + start) + ' ' + (p.y + py) + 'h' + (px - start) + 'v1h' + (start - px) + 'z');
        cur = b; start = px;
      }
    }
  }
  bandPaths.forEach(function(parts, b){
    if (!parts.length) return;
    const bp = mk('path', {d:parts.join(''), fill:bandColors[b], 'shape-rendering':'crispEdges'}, inner);
    
    
  });

  // map
  const coast = mk('path', {d:polyPath(coastlines, p), fill:'none', stroke:'#666', 'stroke-width':1.7, 'stroke-linejoin':'round'}, inner);
  
  
  const bord = mk('path', {d:polyPath(borders, p), fill:'none', stroke:'#666', 'stroke-width':1.4, 'stroke-linejoin':'round'}, inner);
  
  

  // contours
  seriesStyles.forEach(function(s){
    p[s[0]].forEach(function(line){
      const c = mk('path', {d:smoothPath(line, p), fill:'none', stroke:s[1], 'stroke-width':1.6}, inner);
      
      
    });
  });

  // frame
  let d = 'M' + p.x + ' ' + p.y + 'V' + (p.y + plotH) + 'M' + (p.x + plotW) + ' ' + p.y + 'V' + (p.y + plotH);
  const sides = mk('path', {d:d, stroke:'#000', 'stroke-width':1.6, fill:'none'}, g);
  
  
  const topLine = mk('rect', {x:p.x - 1, y:yScale(40, p) - 1.5, width:plotW + 2, height:3, fill:'#000'}, g);
  
  
  const bottomLine = mk('rect', {x:p.x - 1, y:yScale(0, p) - 1.5, width:plotW + 2, height:3, fill:'#000'}, g);
  
  

  // ticks
  let tk = '';
  for (let lon = -180; lon <= 0; lon += 10){
    const x = xScale(lon, p), major = lon % 60 === 0;
    tk += 'M' + x + ' ' + (p.y + plotH) + 'v' + (major ? 8 : 4);
    tk += 'M' + x + ' ' + p.y + 'v' + (major ? -6 : -3);
  }
  for (let lat = 0; lat <= 40; lat += 2){
    const y = yScale(lat, p), len = lat % 10 === 0 ? 5 : 2.5;
    tk += 'M' + (p.x - len) + ' ' + y + 'h' + len;
    tk += 'M' + (p.x + plotW) + ' ' + y + 'h' + len;
  }
  const ticks = mk('path', {d:tk, stroke:'#000', 'stroke-width':1.2, fill:'none'}, g);
  
  

  // y tick labels on the left column
  if (idx < 4){
    latTickValues.forEach(function(v, i){
      const t = mk('text', {x:p.x - 27.5, y:yScale(v, p) + 12, 'font-size':34.5, 'text-anchor':'end'}, g);
      t.textContent = latTickLabels[i];
      
      
    });
  }
  // x tick labels on the bottom row
  if (idx === 3 || idx === 7){
    lonTickValues.forEach(function(v, i){
      const t = mk('text', {x:xScale(v, p) - 0.5, y:909, 'font-size':34.5, 'text-anchor':'middle'}, g);
      t.textContent = lonTickLabels[i];
      
      
    });
  }
});

// colorbar
const cb = document.getElementById('colorbar');
const cbX = 229.5, cbY = 970, cbW = 603.5, cbH = 23;
bandColors.forEach(function(col, i){
  const cell = mk('rect', {x:cbX + i * cbW / 11, y:cbY, width:cbW / 11, height:cbH, fill:col, stroke:'#000', 'stroke-width':1.4}, cb);
  
  
});
colorbarLabels.forEach(function(lbl, i){
  const t = mk('text', {x:cbX + (i + 1) * cbW / 11, y:1021, 'font-size':29, 'text-anchor':'middle'}, cb);
  t.textContent = lbl;
  
  
});
</script>
</svg>
</body>
</html>
